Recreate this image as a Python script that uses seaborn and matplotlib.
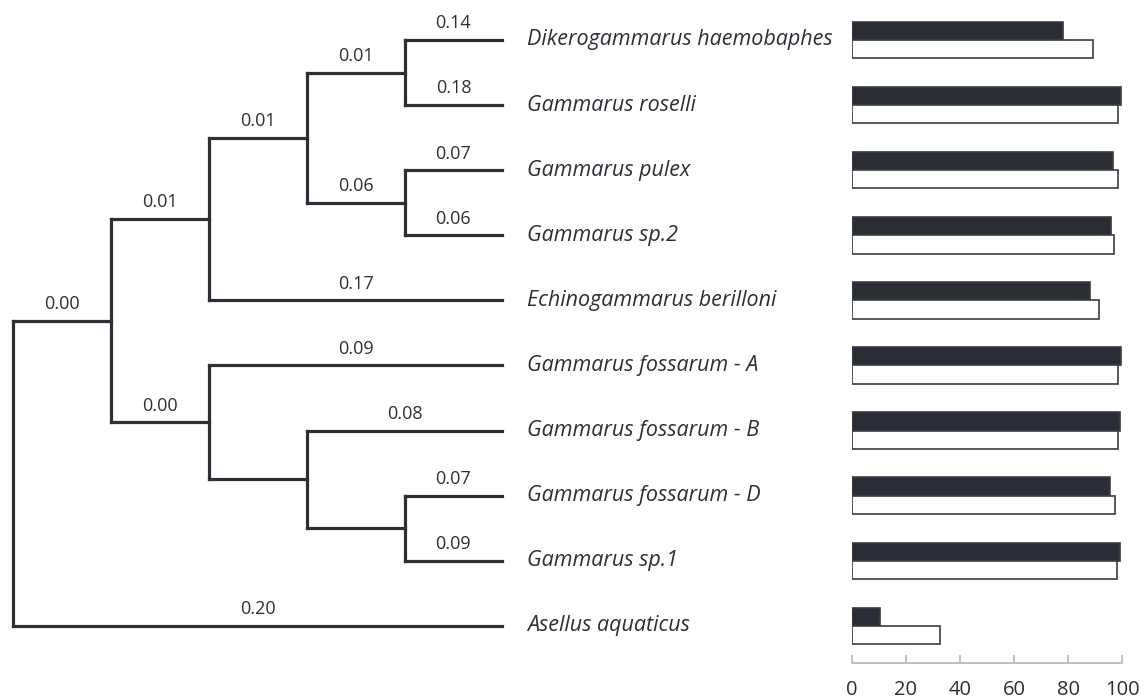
import matplotlib
matplotlib.use("Agg")
import matplotlib.pyplot as plt
import seaborn as sns
import pandas as pd

# ---------------- data ----------------
species = [
    "Dikerogammarus haemobaphes",
    "Gammarus roselli",
    "Gammarus pulex",
    "Gammarus sp.2",
    "Echinogammarus berilloni",
    "Gammarus fossarum - A",
    "Gammarus fossarum - B",
    "Gammarus fossarum - D",
    "Gammarus sp.1",
    "Asellus aquaticus",
]
dark_values = [78, 99.5, 96.6, 95.7, 88.2, 99.5, 99.3, 95.5, 99.3, 10.6]
white_values = [89.3, 98.3, 98.3, 96.8, 91.4, 98.3, 98.3, 97.3, 97.9, 32.5]
leaf_labels = ["0.14", "0.18", "0.07", "0.06", "0.17", "0.09", "0.08", "0.07", "0.09", "0.20"]

# internal nodes: name -> (child1, child2, label on the node's stem)
clades = {
    "E": (0, 1, "0.01"),
    "F": (2, 3, "0.06"),
    "D": ("E", "F", "0.01"),
    "B": ("D", 4, "0.01"),
    "H": (7, 8, ""),
    "G": (6, "H", ""),
    "C": (5, "G", "0.00"),
    "A": ("B", "C", "0.00"),
    "root": ("A", 9, ""),
}
tick_values = [0, 20, 40, 60, 80, 100]

# ---------------- style ----------------
sns.set_theme(style="white")
plt.rcParams["font.family"] = ["Open Sans", "DejaVu Sans"]
line_color = "#2d2f36"
text_color = "#2d2f36"

W, H = 1144, 698
fig = plt.figure(figsize=(W / 100, H / 100), dpi=100)

top_px, bot_px = 5, 663
row0_px, pitch = 40.0, 65.1
ylim = ((bot_px - row0_px) / pitch, -(row0_px - top_px) / pitch)
ax_b = H - bot_px
ax_h = bot_px - top_px

# ---------------- tree ----------------
ax_t = fig.add_axes([0, ax_b / H, 840 / W, ax_h / H])
x0_px, step = 13.3, 97.8
ax_t.set_xlim(-x0_px / step, (840 - x0_px) / step)
ax_t.set_ylim(*ylim)
ax_t.axis("off")

n_leaves = len(species)
leaf_depth = 5
depth = {"root": 0}
ypos = {}


def set_depth(node):
    for ch in clades[node][:2]:
        if isinstance(ch, str):
            depth[ch] = depth[node] + 1
            set_depth(ch)


set_depth("root")


def get_y(node):
    if isinstance(node, int):
        return float(node)
    if node not in ypos:
        a, b, _ = clades[node]
        ypos[node] = (get_y(a) + get_y(b)) / 2
    return ypos[node]


def node_x(node):
    return leaf_depth if isinstance(node, int) else depth[node]


def node_label(node):
    return leaf_labels[node] if isinstance(node, int) else clades[node][2]


lw = 2.3
for name, (a, b, _) in clades.items():
    xp = depth[name]
    ya, yb = get_y(a), get_y(b)
    ax_t.plot([xp, xp], [ya, yb], color=line_color, lw=lw, solid_capstyle="projecting")
    for ch in (a, b):
        xc, yc = node_x(ch), get_y(ch)
        ax_t.plot([xp, xc], [yc, yc], color=line_color, lw=lw, solid_capstyle="projecting")
        lab = node_label(ch)
        if lab:
            ax_t.annotate(lab, xy=((xp + xc) / 2, yc), xytext=(0, 12),
                          textcoords="offset points", ha="center", va="center",
                          fontsize=13, color=text_color)

for i, sp in enumerate(species):
    ax_t.text(leaf_depth + 25 / step, i, sp, ha="left", va="center",
              fontsize=15.5, style="italic", color=text_color)

# ---------------- bars ----------------
df = pd.DataFrame({
    "species": species * 2,
    "value": dark_values + white_values,
    "group": ["dark"] * n_leaves + ["white"] * n_leaves,
})
x_left, x_right = 851.7, 1122.3
ax_bar = fig.add_axes([x_left / W, ax_b / H, (x_right - x_left) / W, ax_h / H])
sns.barplot(data=df, x="value", y="species", hue="group", order=species,
            hue_order=["dark", "white"],
            palette={"dark": "#2b2d35", "white": "white"},
            edgecolor="#3a3c44", linewidth=1.2, width=0.56, orient="h",
            legend=False, ax=ax_bar, saturation=1)
ax_bar.set_xlim(0, 100)
ax_bar.set_ylim(*ylim)
ax_bar.set_xlabel("")
ax_bar.set_ylabel("")
ax_bar.set_yticks([])
ax_bar.set_xticks(tick_values)
ax_bar.set_xticklabels([str(t) for t in tick_values])
for s in ("left", "right", "top"):
    ax_bar.spines[s].set_visible(False)
ax_bar.spines["bottom"].set_color("#b5b5b5")
ax_bar.spines["bottom"].set_linewidth(1.2)
ax_bar.tick_params(axis="x", direction="in", length=6, width=1.2, color="#b5b5b5",
                   labelsize=14.5, labelcolor=text_color, pad=12, bottom=True)
ax_bar.set_facecolor("none")

fig.savefig("out.png", dpi=100, facecolor="white")
